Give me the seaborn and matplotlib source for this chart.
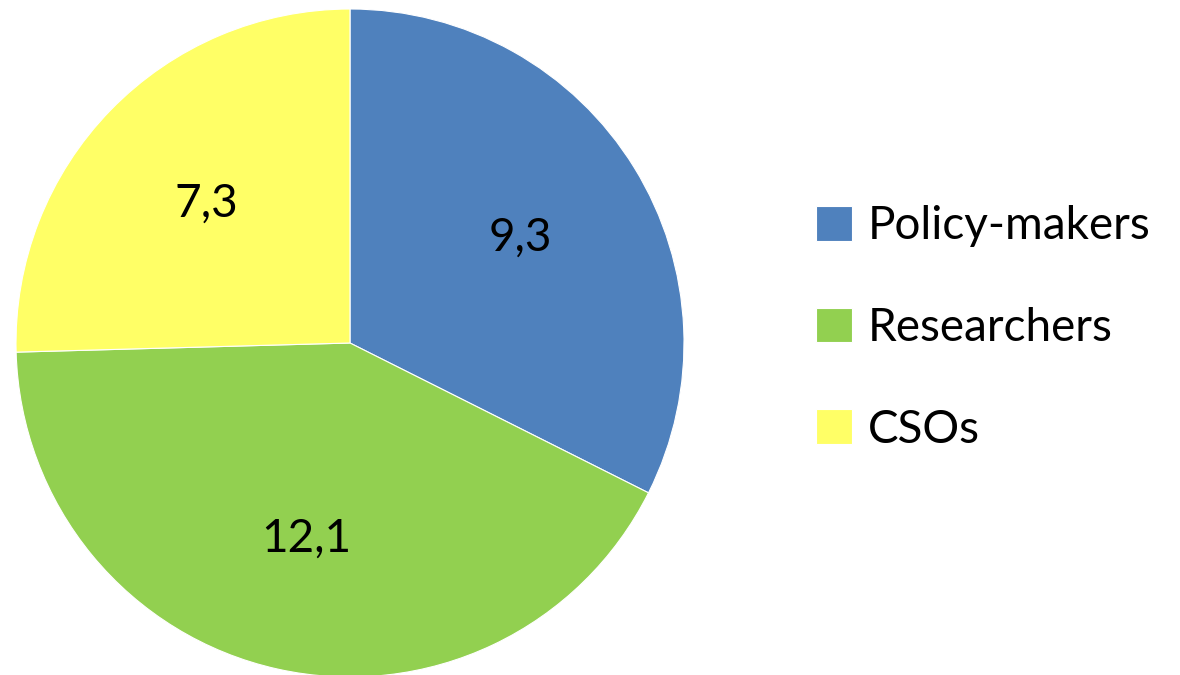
import matplotlib.pyplot as plt
import seaborn as sns

# Data
groups = ['Policy-makers', 'Researchers', 'CSOs']
values = [9.3, 12.1, 7.3]
colors = ['#4F81BD', '#92D050', '#FFFF66']

sns.set_theme(style='white')
plt.rcParams['font.family'] = ['Lato', 'DejaVu Sans']

total = sum(values)


def fmt_value(pct):
    # show the raw value with a decimal comma
    return f"{pct * total / 100:.1f}".replace('.', ',')


fig = plt.figure(figsize=(11.8, 6.75), dpi=100)
ax = fig.add_axes([16 / 1180, -2 / 675, 668 / 1180, 668 / 675])

wedges, texts, autotexts = ax.pie(
    values, colors=colors, startangle=90, counterclock=False,
    autopct=fmt_value, pctdistance=0.6,
    wedgeprops=dict(edgecolor='white', linewidth=0.8),
    textprops=dict(fontsize=33, color='black'),
)
ax.set_xlim(-1, 1)
ax.set_ylim(-1, 1)
ax.set_aspect('equal')

leg = fig.legend(
    wedges, groups, loc='center left', bbox_to_anchor=(775 / 1180, 1 - 328 / 675),
    frameon=False, fontsize=33, handlelength=0.78, handleheight=0.78,
    handletextpad=0.35, labelspacing=1.3,
)
for t in leg.get_texts():
    t.set_color('black')

plt.savefig('out.png', dpi=100)
plt.close()
